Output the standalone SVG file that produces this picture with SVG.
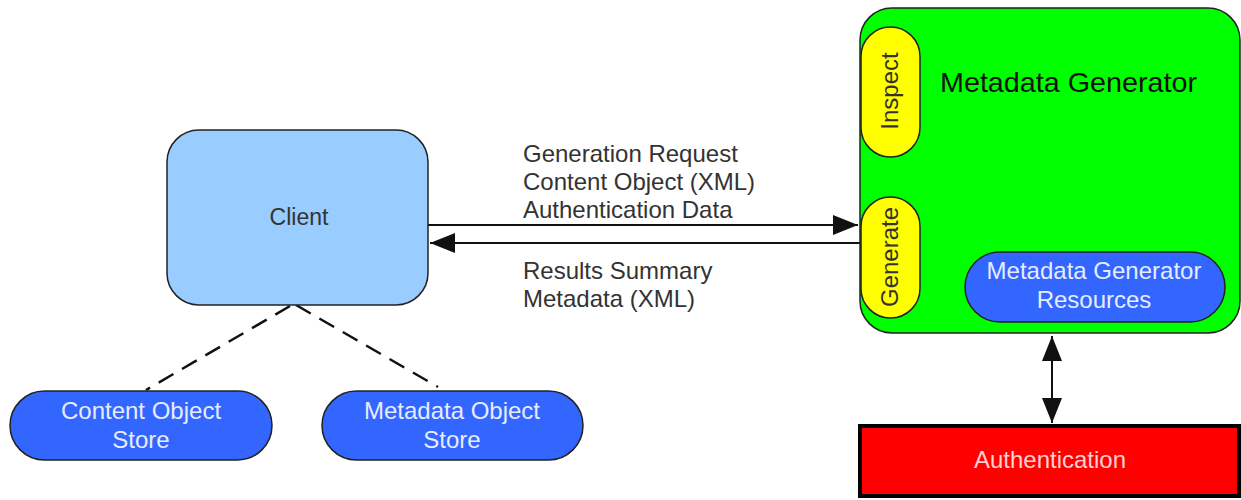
<svg xmlns="http://www.w3.org/2000/svg" width="1241" height="500" viewBox="0 0 1241 500">
<defs>
<style>
text{font-family:"Liberation Sans",Arial,sans-serif;}
.lbl{font-size:24px;fill:#333;}
.wt{font-size:24px;fill:#e6ecff;text-anchor:middle;}
.node{stroke:#222;stroke-width:1.5;}
.conn{stroke:#111;stroke-width:2;fill:none;}
.dash{stroke:#111;stroke-width:2.5;fill:none;stroke-dasharray:17,10;}
</style>
<marker id="ah2" viewBox="0 0 10 10" refX="10" refY="5" markerWidth="25" markerHeight="20" markerUnits="userSpaceOnUse" orient="auto-start-reverse" preserveAspectRatio="none">
<path d="M0,0 L10,5 L0,10 z" fill="#111"/>
</marker>
</defs>
<rect width="1241" height="500" fill="#fff"/>
<g id="connectors">
<line class="conn" x1="428" y1="225" x2="858" y2="225" marker-end="url(#ah2)"/>
<line class="conn" x1="860" y1="243" x2="430" y2="243" marker-end="url(#ah2)"/>
<line class="conn" x1="1052" y1="336" x2="1052" y2="423" marker-start="url(#ah2)" marker-end="url(#ah2)"/>
<line class="dash" x1="290" y1="306" x2="146" y2="390"/>
<line class="dash" x1="296" y1="305" x2="438" y2="387"/>
<text class="lbl" x="523" y="162">Generation Request</text>
<text class="lbl" x="523" y="190">Content Object (XML)</text>
<text class="lbl" x="523" y="218">Authentication Data</text>
<text class="lbl" x="523" y="279">Results Summary</text>
<text class="lbl" x="523" y="307">Metadata (XML)</text>
</g>
<g id="client">
<rect class="node" x="167" y="130" width="261" height="175" rx="32" fill="#99ccff"/>
<text x="299" y="225" font-size="23" fill="#333" text-anchor="middle">Client</text>
</g>
<g id="metadata-generator">
<rect class="node" x="860" y="8" width="380" height="325" rx="32" fill="#00ff00"/>
<text x="940" y="92" font-size="28" fill="#111" textLength="257" lengthAdjust="spacingAndGlyphs">Metadata Generator</text>
</g>
<g id="inspect">
<rect class="node" x="861" y="27" width="59" height="130" rx="29.5" fill="#ffff00"/>
<text transform="translate(898,91) rotate(-90)" font-size="24" fill="#333" text-anchor="middle">Inspect</text>
</g>
<g id="generate">
<rect class="node" x="861" y="197" width="59" height="121" rx="29.5" fill="#ffff00"/>
<text transform="translate(898,257) rotate(-90)" font-size="24" fill="#333" text-anchor="middle">Generate</text>
</g>
<g id="resources">
<rect class="node" x="965" y="252" width="260" height="70" rx="35" fill="#3366ff"/>
<text class="wt" x="1094" y="279">Metadata Generator</text>
<text class="wt" x="1094" y="308">Resources</text>
</g>
<g id="authentication">
<rect x="860" y="426" width="379" height="70" fill="#ff0000" stroke="#000" stroke-width="4"/>
<text x="1050" y="468" font-size="24" fill="#ffd0d0" text-anchor="middle">Authentication</text>
</g>
<g id="content-store">
<rect class="node" x="10" y="391" width="262" height="69" rx="34.5" fill="#3366ff"/>
<text class="wt" x="141" y="419">Content Object</text>
<text class="wt" x="141" y="448">Store</text>
</g>
<g id="metadata-store">
<rect class="node" x="322" y="391" width="261" height="69" rx="34.5" fill="#3366ff"/>
<text class="wt" x="452" y="419">Metadata Object</text>
<text class="wt" x="452" y="448">Store</text>
</g>
</svg>
